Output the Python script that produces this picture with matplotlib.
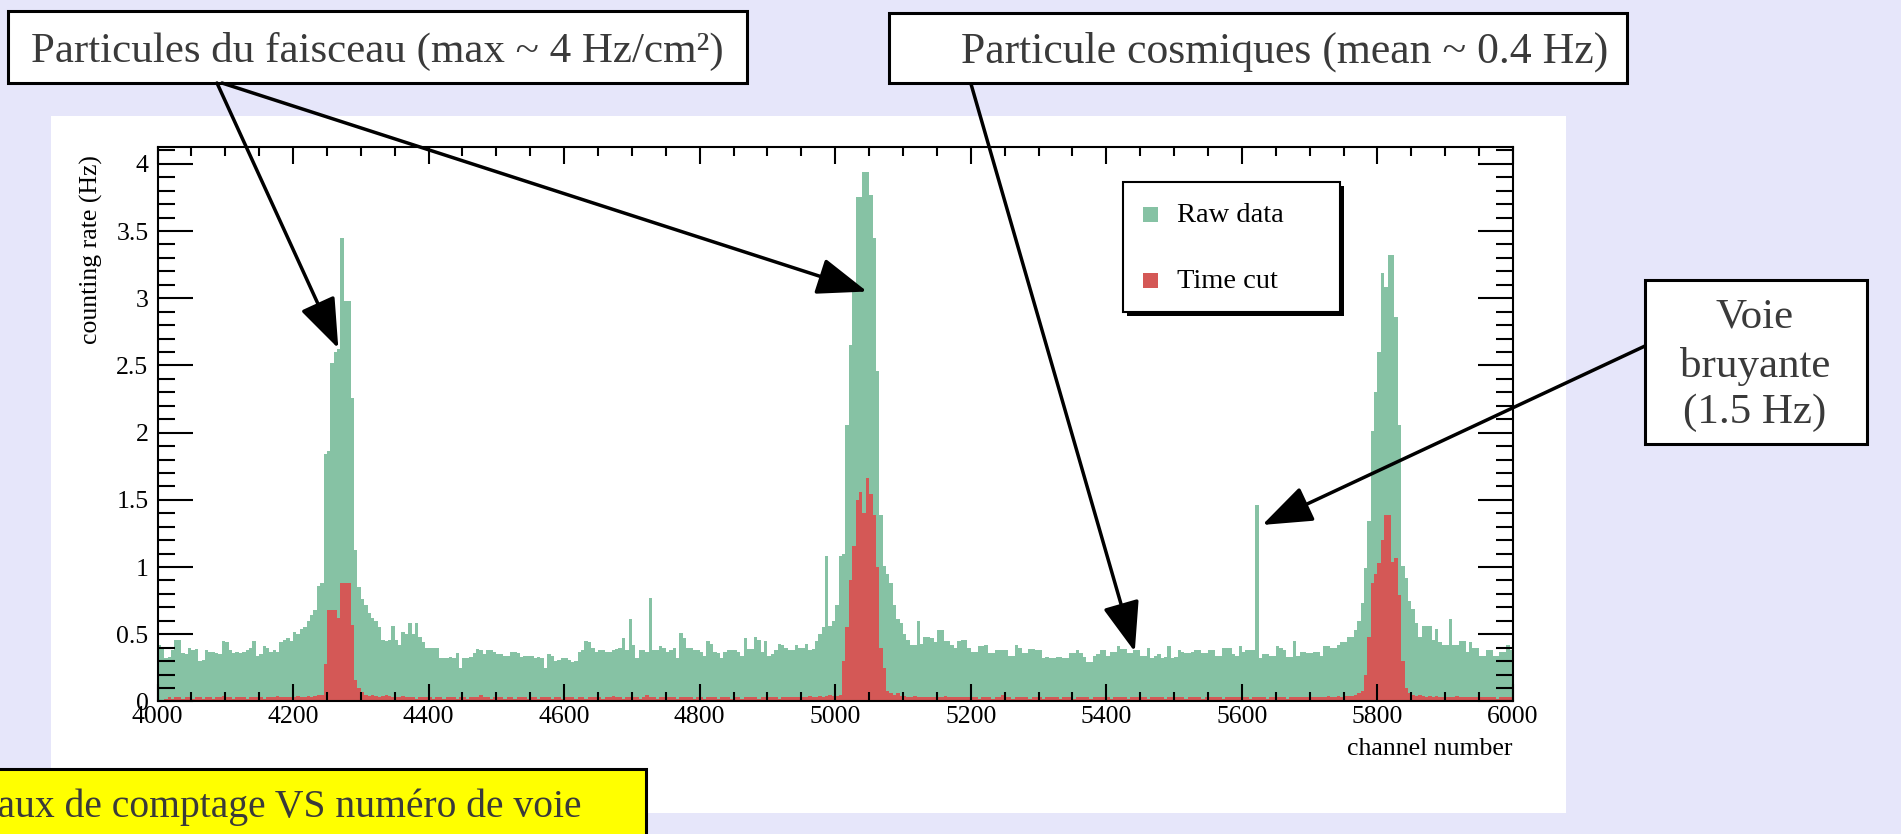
import numpy as np
import matplotlib
matplotlib.use("Agg")
import matplotlib.pyplot as plt
from matplotlib.patches import Rectangle, ConnectionPatch
from matplotlib.ticker import MultipleLocator

plt.rcParams['font.family'] = ['Liberation Serif', 'DejaVu Serif']

# counting rate (Hz) per 5-channel bin
raw_4000 = [0.42, 0.40, 0.32, 0.33, 0.38, 0.46, 0.46, 0.36, 0.35, 0.40,
            0.38, 0.39, 0.30, 0.31, 0.38, 0.37, 0.37, 0.36, 0.35, 0.45,
            0.44, 0.38, 0.36, 0.37, 0.36, 0.37, 0.38, 0.40, 0.45, 0.34,
            0.35, 0.41, 0.40, 0.37, 0.38, 0.37, 0.44, 0.46, 0.47, 0.45,
            0.52, 0.50, 0.54, 0.55, 0.60, 0.64, 0.68, 0.86, 0.88, 1.84,
            1.86, 2.52, 2.60, 2.62, 3.45, 2.98, 2.98, 2.26, 1.13, 0.85,
            0.76, 0.72, 0.66, 0.62, 0.60, 0.55, 0.46, 0.45, 0.46, 0.56,
            0.46, 0.42, 0.52, 0.50, 0.58, 0.50, 0.58, 0.48, 0.44, 0.40]
raw_4400 = [0.40, 0.40, 0.40, 0.32, 0.32, 0.32, 0.33, 0.32, 0.36, 0.25,
            0.32, 0.32, 0.33, 0.36, 0.39, 0.38, 0.35, 0.38, 0.38, 0.37,
            0.35, 0.35, 0.34, 0.34, 0.37, 0.37, 0.36, 0.33, 0.34, 0.34,
            0.34, 0.32, 0.33, 0.32, 0.25, 0.35, 0.34, 0.30, 0.31, 0.32,
            0.32, 0.31, 0.29, 0.30, 0.37, 0.38, 0.45, 0.44, 0.40, 0.37,
            0.38, 0.38, 0.37, 0.37, 0.38, 0.39, 0.40, 0.47, 0.38, 0.61,
            0.42, 0.32, 0.38, 0.38, 0.37, 0.77, 0.38, 0.38, 0.41, 0.40,
            0.37, 0.38, 0.40, 0.32, 0.51, 0.47, 0.40, 0.40, 0.38, 0.38]
raw_4800 = [0.37, 0.34, 0.45, 0.43, 0.37, 0.36, 0.32, 0.37, 0.38, 0.38,
            0.38, 0.37, 0.34, 0.47, 0.39, 0.39, 0.48, 0.46, 0.37, 0.45,
            0.34, 0.35, 0.38, 0.43, 0.42, 0.40, 0.38, 0.38, 0.42, 0.40,
            0.40, 0.43, 0.38, 0.39, 0.45, 0.50, 0.55, 1.08, 0.56, 0.60,
            0.72, 1.08, 1.10, 2.06, 2.65, 3.05, 3.75, 3.75, 3.94, 3.94,
            3.77, 3.45, 2.46, 1.39, 1.01, 0.95, 0.88, 0.72, 0.61, 0.58,
            0.50, 0.46, 0.42, 0.42, 0.60, 0.43, 0.48, 0.48, 0.47, 0.44,
            0.53, 0.53, 0.45, 0.45, 0.42, 0.40, 0.45, 0.46, 0.46, 0.40]
raw_5200 = [0.37, 0.37, 0.41, 0.41, 0.42, 0.36, 0.36, 0.38, 0.38, 0.38,
            0.38, 0.34, 0.34, 0.42, 0.40, 0.36, 0.36, 0.39, 0.39, 0.38,
            0.38, 0.32, 0.33, 0.32, 0.32, 0.33, 0.33, 0.32, 0.32, 0.36,
            0.36, 0.38, 0.36, 0.33, 0.29, 0.29, 0.34, 0.35, 0.38, 0.38,
            0.34, 0.37, 0.37, 0.41, 0.39, 0.39, 0.36, 0.36, 0.38, 0.38,
            0.34, 0.34, 0.40, 0.32, 0.34, 0.35, 0.32, 0.33, 0.41, 0.32,
            0.33, 0.38, 0.37, 0.36, 0.36, 0.37, 0.38, 0.38, 0.36, 0.36,
            0.38, 0.38, 0.34, 0.34, 0.40, 0.40, 0.40, 0.35, 0.34, 0.41]
raw_5600 = [0.37, 0.38, 0.38, 0.38, 1.46, 0.32, 0.35, 0.35, 0.34, 0.34,
            0.41, 0.40, 0.38, 0.33, 0.33, 0.45, 0.34, 0.37, 0.37, 0.36,
            0.36, 0.37, 0.37, 0.34, 0.41, 0.41, 0.40, 0.40, 0.42, 0.44,
            0.44, 0.48, 0.48, 0.53, 0.60, 0.73, 0.99, 1.34, 2.01, 2.30,
            2.60, 3.19, 3.08, 3.32, 3.32, 2.86, 2.06, 1.01, 0.92, 0.75,
            0.69, 0.58, 0.48, 0.56, 0.56, 0.56, 0.46, 0.54, 0.44, 0.42,
            0.42, 0.61, 0.42, 0.42, 0.45, 0.45, 0.37, 0.44, 0.40, 0.40,
            0.34, 0.34, 0.38, 0.38, 0.34, 0.34, 0.37, 0.37, 0.42, 0.38]

cut_4000 = [0.00, 0.00, 0.02, 0.03, 0.02, 0.03, 0.03, 0.02, 0.03, 0.03,
            0.02, 0.03, 0.03, 0.02, 0.03, 0.03, 0.02, 0.03, 0.03, 0.04,
            0.03, 0.03, 0.02, 0.03, 0.03, 0.03, 0.02, 0.03, 0.03, 0.03,
            0.03, 0.02, 0.03, 0.03, 0.03, 0.04, 0.03, 0.03, 0.03, 0.03,
            0.03, 0.04, 0.03, 0.03, 0.04, 0.03, 0.04, 0.05, 0.05, 0.28,
            0.68, 0.68, 0.68, 0.62, 0.88, 0.88, 0.88, 0.57, 0.16, 0.10,
            0.07, 0.05, 0.04, 0.05, 0.04, 0.03, 0.04, 0.05, 0.04, 0.03,
            0.03, 0.03, 0.04, 0.03, 0.03, 0.03, 0.02, 0.03, 0.03, 0.03]
cut_4400 = [0.03, 0.02, 0.03, 0.03, 0.02, 0.03, 0.03, 0.03, 0.02, 0.03,
            0.03, 0.02, 0.03, 0.03, 0.03, 0.05, 0.03, 0.03, 0.02, 0.03,
            0.03, 0.03, 0.02, 0.03, 0.03, 0.02, 0.03, 0.03, 0.03, 0.02,
            0.03, 0.03, 0.02, 0.03, 0.03, 0.03, 0.02, 0.03, 0.03, 0.02,
            0.03, 0.03, 0.03, 0.02, 0.03, 0.03, 0.02, 0.03, 0.03, 0.03,
            0.03, 0.02, 0.03, 0.03, 0.04, 0.03, 0.03, 0.02, 0.03, 0.03,
            0.03, 0.03, 0.02, 0.03, 0.05, 0.03, 0.03, 0.02, 0.03, 0.03,
            0.03, 0.03, 0.03, 0.02, 0.03, 0.03, 0.03, 0.03, 0.02, 0.03]
cut_4800 = [0.03, 0.02, 0.03, 0.03, 0.03, 0.02, 0.03, 0.03, 0.03, 0.02,
            0.03, 0.03, 0.02, 0.03, 0.03, 0.03, 0.03, 0.02, 0.03, 0.03,
            0.03, 0.03, 0.03, 0.02, 0.03, 0.03, 0.03, 0.03, 0.03, 0.03,
            0.03, 0.03, 0.04, 0.03, 0.03, 0.04, 0.03, 0.04, 0.05, 0.04,
            0.04, 0.05, 0.30, 0.55, 0.90, 1.16, 1.50, 1.56, 1.40, 1.66,
            1.54, 1.39, 1.00, 0.40, 0.25, 0.08, 0.06, 0.05, 0.06, 0.04,
            0.04, 0.03, 0.03, 0.04, 0.03, 0.03, 0.03, 0.03, 0.03, 0.03,
            0.03, 0.03, 0.04, 0.03, 0.03, 0.03, 0.03, 0.03, 0.03, 0.03]
cut_5200 = [0.03, 0.03, 0.02, 0.03, 0.03, 0.03, 0.02, 0.03, 0.03, 0.05,
            0.03, 0.03, 0.02, 0.03, 0.03, 0.03, 0.03, 0.02, 0.03, 0.03,
            0.03, 0.02, 0.03, 0.03, 0.03, 0.03, 0.02, 0.03, 0.03, 0.03,
            0.02, 0.03, 0.03, 0.03, 0.03, 0.02, 0.03, 0.03, 0.03, 0.03,
            0.03, 0.02, 0.03, 0.03, 0.03, 0.03, 0.02, 0.03, 0.03, 0.03,
            0.03, 0.03, 0.02, 0.03, 0.03, 0.03, 0.03, 0.02, 0.03, 0.03,
            0.03, 0.03, 0.03, 0.02, 0.03, 0.03, 0.03, 0.03, 0.02, 0.03,
            0.03, 0.03, 0.03, 0.03, 0.02, 0.03, 0.03, 0.03, 0.03, 0.03]
cut_5600 = [0.03, 0.03, 0.02, 0.03, 0.03, 0.03, 0.03, 0.02, 0.03, 0.03,
            0.03, 0.03, 0.03, 0.02, 0.03, 0.03, 0.03, 0.03, 0.03, 0.03,
            0.03, 0.03, 0.03, 0.03, 0.03, 0.04, 0.03, 0.03, 0.04, 0.03,
            0.04, 0.04, 0.04, 0.05, 0.06, 0.08, 0.20, 0.48, 0.88, 0.95,
            1.03, 1.20, 1.39, 1.39, 1.04, 1.07, 0.79, 0.30, 0.10, 0.06,
            0.05, 0.04, 0.05, 0.04, 0.03, 0.04, 0.03, 0.04, 0.03, 0.03,
            0.03, 0.03, 0.03, 0.04, 0.03, 0.03, 0.03, 0.03, 0.03, 0.03,
            0.03, 0.03, 0.03, 0.03, 0.03, 0.02, 0.03, 0.03, 0.03, 0.03]

raw = np.array(raw_4000 + raw_4400 + raw_4800 + raw_5200 + raw_5600)
cut = np.array(cut_4000 + cut_4400 + cut_4800 + cut_5200 + cut_5600)
edges = np.arange(4000, 6001, 5)

x_ticks = list(range(4000, 6001, 200))
y_ticks = [0, 0.5, 1, 1.5, 2, 2.5, 3, 3.5, 4]
y_ticklabels = ['0', '0.5', '1', '1.5', '2', '2.5', '3', '3.5', '4']

GREEN = '#86C2A4'
RED = '#D45856'
LAVENDER = '#E6E6FA'
TXT = '#3a3a3a'

W, H = 1901, 834
fig = plt.figure(figsize=(W / 100, H / 100), dpi=100, facecolor=LAVENDER)


def fx(x):
    return x / W


def fy(y):
    return 1 - y / H


def box(x0, y0, x1, y1, fc='white', lw=2.2, z=2):
    r = Rectangle((fx(x0), fy(y1)), (x1 - x0) / W, (y1 - y0) / H,
                  transform=fig.transFigure, facecolor=fc, edgecolor='black',
                  lw=lw, zorder=z)
    fig.add_artist(r)


# white canvas behind the pad
fig.add_artist(Rectangle((fx(51), fy(813)), (1566 - 51) / W, (813 - 116) / H,
                         transform=fig.transFigure, facecolor='white',
                         edgecolor='none', zorder=-5))

ax = fig.add_axes([fx(157.5), fy(701.4), (1513 - 157.5) / W, (701.4 - 147.2) / H])
ax.set_facecolor('white')
ax.stairs(raw, edges, fill=True, color=GREEN, lw=0)
ax.stairs(cut, edges, fill=True, color=RED, lw=0)
ax.set_xlim(4000, 6000)
ax.set_ylim(0, 4.124)

ax.set_xticks(x_ticks)
ax.set_yticks(y_ticks)
ax.set_yticklabels(y_ticklabels)
ax.xaxis.set_minor_locator(MultipleLocator(50))
ax.yaxis.set_minor_locator(MultipleLocator(0.1))
ax.tick_params(which='both', direction='in', top=True, right=True, width=1.5)
ax.tick_params(axis='x', which='major', length=12.5, labelsize=18.5, pad=3)
ax.tick_params(axis='x', which='minor', length=6.5)
ax.tick_params(axis='y', which='major', length=25, labelsize=18.5, pad=6.5)
ax.tick_params(axis='y', which='minor', length=12)
for s in ax.spines.values():
    s.set_linewidth(1.5)

fig.text(fx(91), fy(155), 'counting rate (Hz)', rotation=90, ha='center',
         va='top', size=18.5)
fig.text(fx(1512), fy(749), 'channel number', ha='right', va='center', size=18.5)

# legend
box(1126.5, 186, 1344, 316, fc='black', lw=0, z=3)
box(1122.5, 182, 1340, 312, lw=1.5, z=3)
box(1143, 207, 1158, 222, fc=GREEN, lw=0, z=4)
box(1143, 273, 1158, 288, fc=RED, lw=0, z=4)
fig.text(fx(1177), fy(216), 'Raw data', va='center', size=20.5, zorder=5)
fig.text(fx(1177), fy(281), 'Time cut', va='center', size=20.5, zorder=5)

# annotation boxes
box(8, 11, 747, 83)
fig.text(fx(377), fy(62), 'Particules du faisceau (max ~ 4 Hz/cm²)',
         ha='center', va='baseline', size=31, color=TXT, zorder=5)
box(889, 13, 1627, 83)
fig.text(fx(1285), fy(63), 'Particule cosmiques (mean ~ 0.4 Hz)',
         ha='center', va='baseline', size=31.5, color=TXT, zorder=5)
box(1645, 280, 1867, 444)
for txt, yb in [('Voie', 328), ('bruyante', 377), ('(1.5 Hz)', 423)]:
    fig.text(fx(1755), fy(yb), txt, ha='center', va='baseline', size=31,
             color=TXT, zorder=5)
box(-20, 769, 646, 860, fc='#FFFF00')
fig.text(fx(582), fy(817), 'Taux de comptage VS numéro de voie',
         ha='right', va='baseline', size=28.5, color=TXT, zorder=5)

# arrows: start in figure pixels, tip in data coordinates
arrows = [((217, 83), (4266.8, 2.627)),
          ((222, 83), (5046.9, 3.05)),
          ((971, 84), (5441.9, 0.370)),
          ((1645, 346), (5630.1, 1.313))]
for (sx, sy), tip in arrows:
    con = ConnectionPatch(xyA=(sx, H - sy), coordsA='figure pixels',
                          xyB=tip, coordsB='data', axesB=ax,
                          arrowstyle='-|>,head_length=3.1,head_width=1.15',
                          mutation_scale=10, lw=2.5, color='black',
                          shrinkA=0, shrinkB=0, zorder=6)
    fig.add_artist(con)

fig.savefig('out.png', dpi=100, facecolor=fig.get_facecolor())
